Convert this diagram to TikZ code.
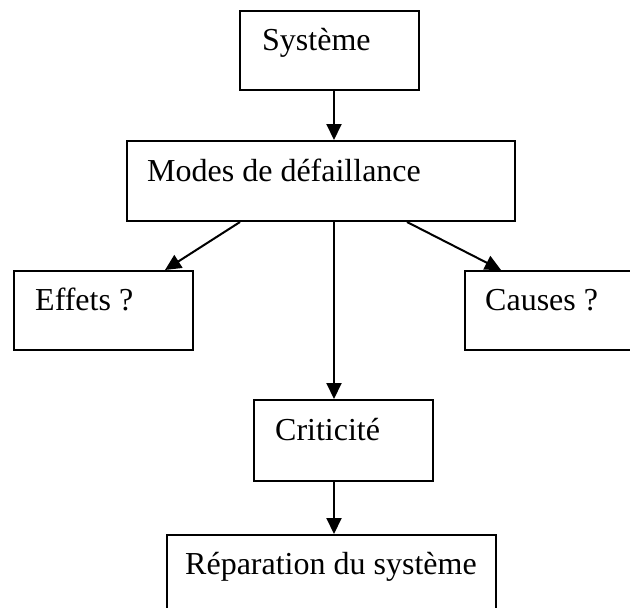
\documentclass[tikz,border=0pt]{standalone}
\usepackage{fontspec}
\setmainfont{Liberation Serif}
\usetikzlibrary{arrows.meta,calc}

\tikzset{
  box/.style={draw, rectangle, anchor=north west, inner sep=0pt, line width=2pt},
  lbl/.style={anchor=base west, inner sep=0pt, font=\fontsize{32}{38}\selectfont},
  arr/.style={line width=2pt, -{Triangle[length=16pt,width=15pt]}}
}

\begin{document}
\begin{tikzpicture}[x=1pt, y=-1pt]
  \clip (0,0) rectangle (630,608);

  % boxes
  \node[box, minimum width=179pt, minimum height=79pt]  (sys)   at (239,10)  {};
  \node[box, minimum width=388pt, minimum height=80pt]  (modes) at (126,140) {};
  \node[box, minimum width=179pt, minimum height=79pt]  (eff)   at (13,270)  {};
  \node[box, minimum width=180pt, minimum height=79pt]  (cau)   at (464,270) {};
  \node[box, minimum width=179pt, minimum height=81pt]  (crit)  at (253,399) {};
  \node[box, minimum width=329pt, minimum height=100pt] (rep)   at (166,534) {};

  % labels, set near the top left of each box
  \node[lbl] (tsys)   at ($(sys.north west)+(23,40.5)$)   {Système};
  \node[lbl] (tmodes) at ($(modes.north west)+(21,41.5)$) {Modes de défaillance};
  \node[lbl] (teff)   at ($(eff.north west)+(22,40.5)$)   {Effets ?};
  \node[lbl] (tcau)   at ($(cau.north west)+(21,40.5)$)   {Causes ?};
  \node[lbl] (tcrit)  at ($(crit.north west)+(22,41)$)    {Criticité};
  \node[lbl] (trep)   at ($(rep.north west)+(19,40)$)     {Réparation du système};

  % vertical spine of the flow
  \coordinate (spine) at (334,0);

  \draw[arr] (sys.south -| spine)  -- (modes.north -| spine);
  \draw[arr] (modes.south -| spine) -- (crit.north -| spine);
  \draw[arr] (crit.south -| spine) -- (rep.north -| spine);

  % branches towards effects and causes
  \draw[arr] ($(modes.south west)+(114,0)$) -- ($(eff.north west)+(152,0)$);
  \draw[arr] ($(modes.south west)+(281,0)$) -- ($(cau.north west)+(37,0)$);
\end{tikzpicture}
\end{document}
